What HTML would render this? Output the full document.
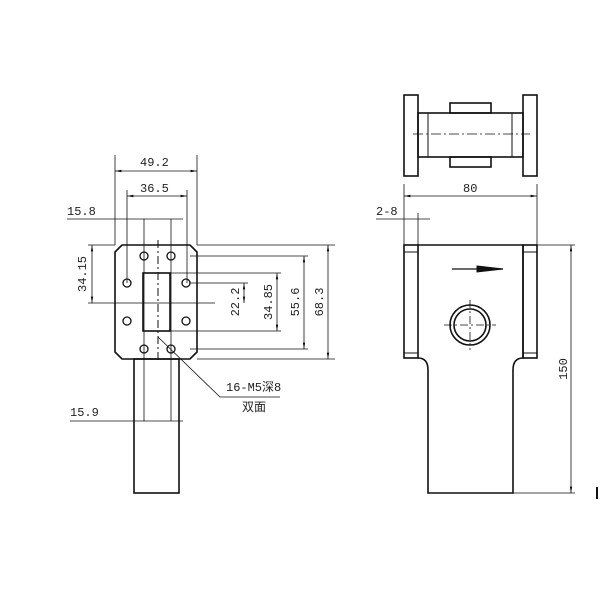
<!DOCTYPE html><html><head><style>body{margin:0;background:#fff}svg{display:block}text{font-family:"Liberation Mono","Noto Sans CJK SC",monospace;font-size:12px;fill:#222;stroke:none}</style></head><body>
<svg width="600" height="600" viewBox="0 0 600 600" stroke="#111" fill="none" stroke-width="1">
<defs><marker id="a" markerWidth="8" markerHeight="6" refX="8" refY="3" orient="auto-start-reverse"><path d="M0,1.5L8,3L0,4.5z" fill="#111" stroke="none"/></marker></defs>
<path d="M122,245H190L197,252V352L190,359H122L115,352V252Z" stroke-width="1.6"/>
<rect x="134" y="359" width="45" height="134" stroke-width="1.6"/>
<rect x="143" y="273" width="27" height="58" stroke-width="1.6"/>
<g stroke-width="1.3"><circle cx="144" cy="256" r="4"/><circle cx="171" cy="256" r="4"/><circle cx="127" cy="283" r="4"/><circle cx="186" cy="283" r="4"/><circle cx="127" cy="321" r="4"/><circle cx="186" cy="321" r="4"/><circle cx="144" cy="349" r="4"/><circle cx="171" cy="349" r="4"/></g>
<path d="M158,240V362" stroke-dasharray="8,3,2,3"/>
<g stroke-width="0.8">
<path d="M115,245V155M197,245V155M127,283V190M187,283V190M144,219V421M171,219V421"/>
<path d="M115,171H197" marker-start="url(#a)" marker-end="url(#a)"/>
<path d="M127,196H187" marker-start="url(#a)" marker-end="url(#a)"/>
<path d="M67,219H183"/><path d="M70,421H183"/>
<path d="M88,245H115M88,303H215M197,245H335M190,256H308M170,273H281M170,331H281M190,283H248M190,349H308M197,359H335"/>
<path d="M92,245V303" marker-start="url(#a)" marker-end="url(#a)"/>
<path d="M244,283V303" marker-start="url(#a)" marker-end="url(#a)"/>
<path d="M277,273V331" marker-start="url(#a)" marker-end="url(#a)"/>
<path d="M304,256V349" marker-start="url(#a)" marker-end="url(#a)"/>
<path d="M328,245V359" marker-start="url(#a)" marker-end="url(#a)"/>
<path d="M158,337L220,397H280"/>
</g>
<text x="140" y="166">49.2</text><text x="140" y="192">36.5</text><text x="67" y="215">15.8</text><text x="70" y="416">15.9</text>
<text x="226" y="391">16-M5深8</text><text x="242" y="411">双面</text>
<text transform="translate(86,274) rotate(-90)" text-anchor="middle">34.15</text>
<text transform="translate(239,302) rotate(-90)" text-anchor="middle">22.2</text>
<text transform="translate(272,302) rotate(-90)" text-anchor="middle">34.85</text>
<text transform="translate(299,302) rotate(-90)" text-anchor="middle">55.6</text>
<text transform="translate(323,302) rotate(-90)" text-anchor="middle">68.3</text>
<g stroke-width="1.6"><rect x="404" y="95" width="14" height="81"/><rect x="523" y="95" width="14" height="81"/><rect x="418" y="113" width="105" height="44"/><rect x="450" y="103" width="41" height="10"/><rect x="450" y="157" width="41" height="10"/></g>
<path d="M428,113V157M512,113V157"/><path d="M413,134H530" stroke-width="0.8" stroke-dasharray="10,3,2,3"/>
<g stroke-width="1.6"><rect x="404" y="245" width="14" height="113"/><rect x="523" y="245" width="14" height="113"/>
<path d="M418,245H523V358Q513,358 513,370V493H428V370Q428,358 418,358"/>
<circle cx="470" cy="325" r="20"/><circle cx="470" cy="325" r="16"/></g>
<path d="M404,252H418M404,353H418M523,252H537M523,353H537"/>
<path d="M444,325H496M470,300V350" stroke-width="0.8" stroke-dasharray="8,3,2,3"/>
<path d="M452,269H503" stroke-width="1.2"/><path d="M477,266L503,269L477,272Z" fill="#111"/>
<g stroke-width="0.8">
<path d="M404,245V184M537,245V184M418,246V213M537,245H575M513,493H575"/>
<path d="M404,196H537" marker-start="url(#a)" marker-end="url(#a)"/>
<path d="M376,219H430"/>
<path d="M571,245V493" marker-start="url(#a)" marker-end="url(#a)"/>
</g>
<text x="463" y="192">80</text><text x="376" y="215">2-8</text>
<text transform="translate(567,369) rotate(-90)" text-anchor="middle">150</text>
<rect x="596" y="487" width="2" height="12" fill="#111" stroke="none"/>
</svg></body></html>
